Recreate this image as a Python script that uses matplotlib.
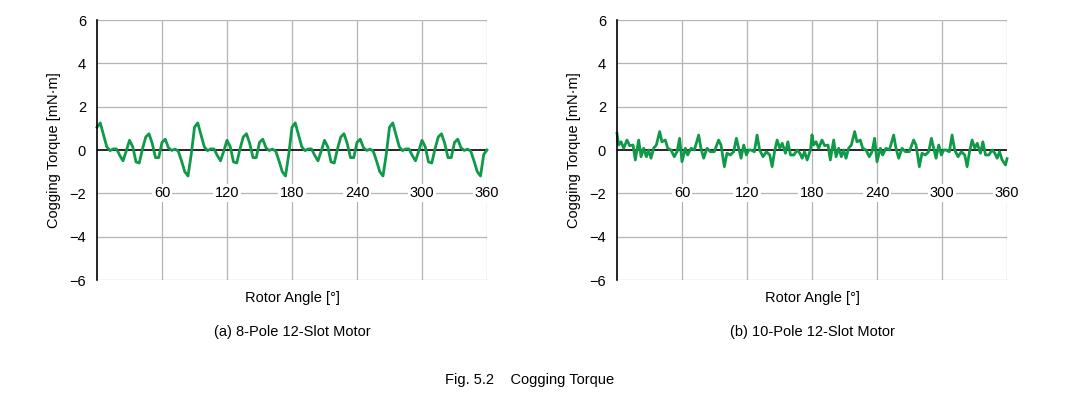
import numpy as np
import matplotlib
matplotlib.use("Agg")
import matplotlib.pyplot as plt

angle_a = list(range(0, 361, 3))
torque_a = [
    1.05, 1.25, 0.70, 0.15, -0.03, 0.05, 0.05, -0.25, -0.50, -0.05, 0.45, 0.15, -0.55, -0.60, 0.05,
    0.60, 0.75, 0.30, -0.35, -0.35, 0.35, 0.50, 0.10, -0.02, 0.04, -0.05, -0.50, -1.00, -1.20, -0.20,
    1.05, 1.25, 0.70, 0.15, -0.03, 0.05, 0.05, -0.25, -0.50, -0.05, 0.45, 0.15, -0.55, -0.60, 0.05,
    0.60, 0.75, 0.30, -0.35, -0.35, 0.35, 0.50, 0.10, -0.02, 0.04, -0.05, -0.50, -1.00, -1.20, -0.20,
    1.05, 1.25, 0.70, 0.15, -0.03, 0.05, 0.05, -0.25, -0.50, -0.05, 0.45, 0.15, -0.55, -0.60, 0.05,
    0.60, 0.75, 0.30, -0.35, -0.35, 0.35, 0.50, 0.10, -0.02, 0.04, -0.05, -0.50, -1.00, -1.20, -0.20,
    1.05, 1.25, 0.70, 0.15, -0.03, 0.05, 0.05, -0.25, -0.50, -0.05, 0.45, 0.15, -0.55, -0.60, 0.05,
    0.60, 0.75, 0.30, -0.35, -0.35, 0.35, 0.50, 0.10, -0.02, 0.04, -0.05, -0.50, -1.00, -1.20, -0.20,
    0.00,
]

angle_b = [
    0, 1.5, 3.7, 6.2, 9.2, 11.7, 14.8, 16.9, 20, 22.2, 24.6, 27.1, 29.2, 31.4, 33.8, 36.3, 39.4, 41.5,
    44.6, 46.8, 49.8, 52.9, 55.4, 57.8, 60, 63.1, 65.2, 68.3, 71.4, 75.4, 77.5, 80, 83.1, 86.2, 89.8,
    93.8, 96, 99.1, 101.5, 104.6, 107.7, 110.2, 112.3, 114.5, 117, 119.4, 121.6, 123.7, 126.8, 129.3,
    131.7, 134.8, 137.9, 141, 143.2, 145.4, 147.8, 150.3, 152.5, 155.5, 157.7, 160.2, 163.2, 166.3,
    168.8, 170.9, 173.1, 175.5, 178.6,
    180, 181.5, 183.7, 186.2, 189.2, 191.7, 194.8, 196.9, 200, 202.2, 204.6, 207.1, 209.2, 211.4,
    213.8, 216.3, 219.4, 221.5, 224.6, 226.8, 229.8, 232.9, 235.4, 237.8, 240, 243.1, 245.2, 248.3,
    251.4, 255.4, 257.5, 260, 263.1, 266.2, 269.8, 273.8, 276, 279.1, 281.5, 284.6, 287.7, 290.2,
    292.3, 294.5, 297, 299.4, 301.6, 303.7, 306.8, 309.3, 311.7, 314.8, 317.9, 321, 323.2, 325.4,
    327.8, 330.3, 332.5, 335.5, 337.7, 340.2, 343.2, 346.3, 348.8, 350.9, 353.1, 355.5, 358.6, 360,
]
torque_b = [
    0.77, 0.23, 0.38, 0.08, 0.46, 0.20, 0.23, -0.46, 0.46, -0.31, 0.08, -0.31, 0.00, -0.38, 0.08, 0.23,
    0.85, 0.38, 0.46, 0.08, 0.00, -0.31, -0.08, 0.54, -0.54, 0.08, -0.23, 0.08, 0.00, 0.69, 0.08, -0.38,
    0.08, -0.08, -0.08, 0.46, 0.23, -0.77, -0.15, -0.23, -0.08, 0.54, 0.08, -0.38, 0.23, -0.23, 0.00,
    0.00, -0.08, 0.69, 0.00, -0.31, -0.08, -0.23, -0.77, -0.08, 0.46, 0.08, 0.31, -0.15, 0.38, -0.23,
    -0.23, 0.00, -0.15, -0.38, -0.08, -0.46, 0.00,
    0.70, 0.23, 0.38, 0.08, 0.46, 0.20, 0.23, -0.46, 0.46, -0.31, 0.08, -0.31, 0.00, -0.38, 0.08, 0.23,
    0.85, 0.38, 0.46, 0.08, 0.00, -0.31, -0.08, 0.54, -0.54, 0.08, -0.23, 0.08, 0.00, 0.69, 0.08, -0.38,
    0.08, -0.08, -0.08, 0.46, 0.23, -0.77, -0.15, -0.23, -0.08, 0.54, 0.08, -0.38, 0.23, -0.23, 0.00,
    0.00, -0.08, 0.69, 0.00, -0.31, -0.08, -0.23, -0.77, -0.08, 0.46, 0.08, 0.31, -0.15, 0.38, -0.23,
    -0.23, 0.00, -0.15, -0.38, -0.08, -0.46, -0.69, -0.40,
]

x_ticks = [60, 120, 180, 240, 300, 360]
y_ticks = [-6, -4, -2, 0, 2, 4, 6]
titles = ["(a) 8-Pole 12-Slot Motor", "(b) 10-Pole 12-Slot Motor"]
line_color = "#0e9a48"

plt.rcParams["font.family"] = "Liberation Sans"
fig = plt.figure(figsize=(10.70, 4.04), dpi=100)
W, H = 1070, 404

for i, (xa, ya) in enumerate([(angle_a, torque_a), (angle_b, torque_b)]):
    left = 97 if i == 0 else 617
    ax = fig.add_axes([left / W, (404 - 280) / H, 390 / W, 260 / H])
    ax.set_xlim(0, 360)
    ax.set_ylim(-6, 6)
    for s in ["top", "right", "bottom"]:
        ax.spines[s].set_visible(False)
    ax.spines["left"].set_color("black")
    ax.spines["left"].set_linewidth(1.2)
    for xt in x_ticks:
        ax.axvline(xt, color="#b4b4b4", lw=0.9, zorder=0)
    for yt in y_ticks:
        if yt != 0:
            ax.axhline(yt, color="#b4b4b4", lw=0.9, zorder=0)
    ax.axhline(0, color="black", lw=1.2, zorder=1)
    ax.set_xticks([])
    ax.set_yticks(y_ticks)
    ax.set_yticklabels(["\u2212" + str(-v) if v < 0 else str(v) for v in y_ticks], fontsize=10.5)
    ax.tick_params(axis="y", length=0, pad=8)
    for xt in x_ticks:
        ax.text(xt, -2, str(xt), ha="center", va="center", fontsize=10.5, zorder=3,
                bbox=dict(facecolor="white", edgecolor="none", pad=1.5))
    ax.plot(xa, ya, color=line_color, lw=2.0, zorder=2, clip_on=False)
    ax.set_ylabel("Cogging Torque [mN\u00b7m]", fontsize=10.5, labelpad=6)
    ax.set_xlabel("Rotor Angle [\u00b0]", fontsize=10.5, labelpad=8)
    fig.text((left + 195) / W, 1 - 332 / H, titles[i], ha="center", va="center", fontsize=10.5)

fig.text(530 / W, 1 - 380 / H, "Fig. 5.2    Cogging Torque", ha="center", va="center", fontsize=10.5)
fig.savefig("out.png", dpi=100, facecolor="white")
